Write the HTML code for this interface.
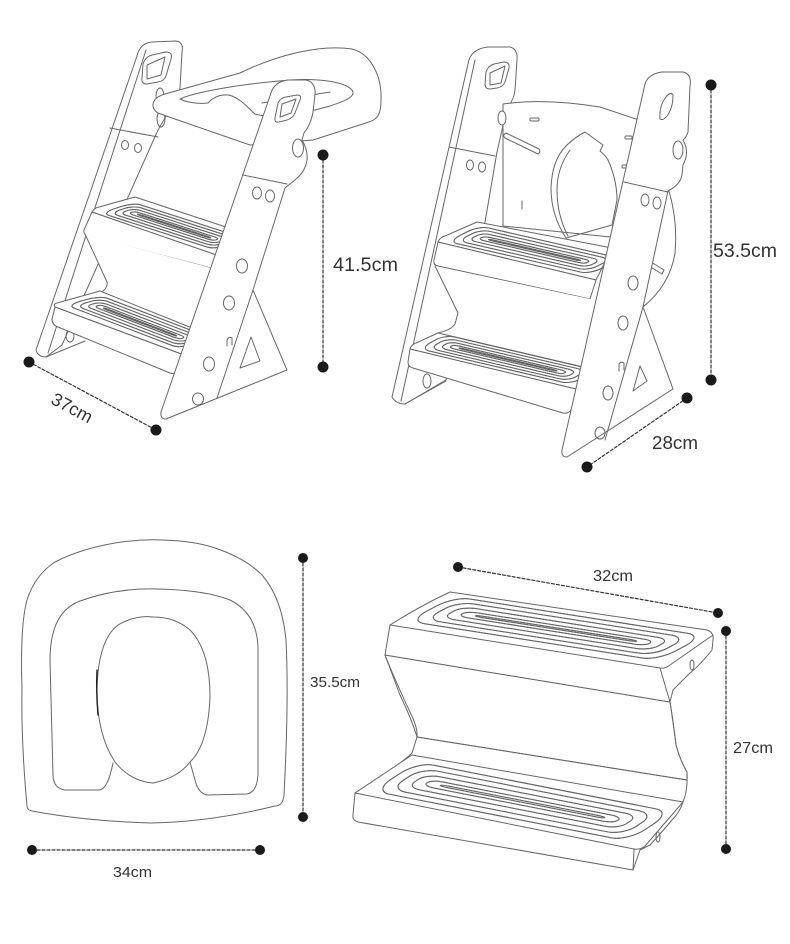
<!DOCTYPE html>
<html><head><meta charset="utf-8">
<style>
html,body{margin:0;padding:0;background:#fff;}
svg{display:block;}
.s *{fill:none;stroke:#666;stroke-width:1;stroke-linejoin:round;stroke-linecap:round;}
.s .w{fill:#fff;}
.s .f{fill:#fff;stroke:none;}
.s .d{fill:#1a1a1a;stroke:none;}
.s .dl{stroke:#333;stroke-width:1.2;stroke-dasharray:3 2;}
.s text{fill:#333;stroke:none;font-family:"Liberation Sans",Arial,sans-serif;}
</style></head>
<body>
<svg class="s" width="790" height="944" viewBox="0 0 790 944" xmlns="http://www.w3.org/2000/svg">
<defs>
<g id="rings">
<rect x="2" y="6" width="96" height="88" rx="6" ry="34" vector-effect="non-scaling-stroke" style="fill:none;stroke:inherit;stroke-width:inherit"/>
<rect x="6" y="18" width="88" height="64" rx="6" ry="25" vector-effect="non-scaling-stroke" style="fill:none;stroke:inherit;stroke-width:inherit"/>
<rect x="10" y="30" width="80" height="40" rx="5" ry="16" vector-effect="non-scaling-stroke" style="fill:none;stroke:inherit;stroke-width:inherit"/>
<rect x="14" y="41" width="72" height="18" rx="4" ry="8" vector-effect="non-scaling-stroke" style="fill:none;stroke:inherit;stroke-width:inherit"/>
<rect x="19" y="48" width="62" height="4" rx="3" ry="2" vector-effect="non-scaling-stroke" style="fill:none;stroke:inherit;stroke-width:inherit"/>
</g>
<g id="gr">
<use href="#rings" style="stroke:#6a6a6a;stroke-width:2.6"/>
<use href="#rings" style="stroke:#fff;stroke-width:0.9"/>
</g>
</defs>

<!-- ================= LEFT LADDER ================= -->
<path class="w" d="M137,56 Q140,43 152,42 L176,41 Q184,42 182,52 L180,88 Q179,97 172,106 L158,130 L62,345 L46,357 Q38,357 36,350 Z"/>
<line x1="146" y1="50" x2="48" y2="353"/>
<line x1="110" y1="128" x2="158" y2="137"/>
<ellipse cx="125" cy="145" rx="3.5" ry="4.5"/>
<ellipse cx="138" cy="148" rx="3.5" ry="4.5"/>
<path d="M143,64 Q145,57 152,55 L166,52 Q173,52 171,59 L166,76 Q164,81 158,82 L147,84 Q141,84 142,78 Z"/>
<path d="M147,65 L165,57 L161,75 L147,79 Z"/>
<ellipse cx="160" cy="96" rx="4" ry="8"/>
<ellipse cx="161" cy="119" rx="4" ry="8"/>
<line x1="46" y1="357" x2="85" y2="341"/>
<ellipse cx="70" cy="336" rx="4" ry="6"/>

<!-- seat -->
<path class="w" d="M158,113 C150,108 151,98 165,94 L240,73 C275,56 318,44 352,49 C372,54 382,78 381,100 C381,114 378,119 369,122 L313,140 L250,145 L172,118 Z"/>
<path d="M180,99 C195,92 240,84 290,80 C320,78 345,82 352,90 C356,96 348,100 330,106 L300,114 C285,117 265,117 255,114 C248,108 242,100 232,96 C224,93 214,96 208,103 C200,104 188,103 180,99 Z"/>
<path d="M262,103 L330,92"/>

<!-- upper step -->
<path class="w" d="M92,212 Q94,208 99,207 L135,197 L238,231 L228,259 Z"/>
<use href="#gr" transform="matrix(1.18,0.38,0.36,-0.12,97,213)"/>
<path class="w" d="M92,212 L84,230 Q83,235 89,236 L226,272 L228,259 Z"/>
<path class="f" d="M85,234 L226,272 L192,328 L100,293 L103,291 Q108,287 107,282 Z"/>
<path d="M85,234 L107,282 Q108,287 103,291 L100,293"/>
<!-- lower step -->
<path class="w" d="M57,303 L100,291 L192,328 L184,355 L55,307 Q53,304 57,303 Z"/>
<use href="#gr" transform="matrix(1.18,0.45,0.38,-0.11,62,305)"/>
<path class="w" d="M55,307 L52,319 Q52,325 58,327 L170,373 Q177,375 181,370 L184,355 Z"/>

<!-- front rail -->
<path class="w" d="M271,93 Q274,82 288,80 L306,80 Q316,82 315,95 L313,112 Q311,124 304,133 L302,140 Q308,150 307,160 Q305,172 296,179 L285,188 L253,290 L287,370 L166,419 Q160,419 161,412 Z"/>
<line x1="253" y1="290" x2="217" y2="398"/>
<line x1="243" y1="175" x2="287" y2="184"/>
<path d="M278,103 Q280,98 286,97 L297,95 Q302,95 300,100 L295,113 Q293,118 287,120 L279,122 Q274,123 275,118 Z"/>
<path d="M282,104 L296,99 L291,113 L280,117 Z"/>
<ellipse cx="298" cy="148" rx="5.5" ry="9"/>
<ellipse cx="257" cy="193" rx="4.5" ry="6"/>
<ellipse cx="270" cy="196" rx="4.5" ry="6"/>
<ellipse cx="242" cy="266" rx="5.5" ry="7"/>
<ellipse cx="229" cy="303" rx="5.5" ry="7"/>
<ellipse cx="209" cy="364" rx="5.5" ry="7"/>
<ellipse cx="198" cy="399" rx="5.5" ry="6"/>
<path d="M227,346 L227,340 Q229,336 232,338 L232,345"/>
<path d="M240,368 L251,337 L260,361 Z"/>

<!-- dims -->
<line class="dl" x1="323" y1="155" x2="323" y2="367"/>
<circle class="d" cx="323" cy="155" r="5.5"/>
<circle class="d" cx="323" cy="367" r="5.5"/>
<text x="333" y="271" font-size="19" textLength="65" lengthAdjust="spacingAndGlyphs">41.5cm</text>
<line class="dl" x1="29" y1="362" x2="156" y2="430"/>
<circle class="d" cx="29" cy="362" r="5.5"/>
<circle class="d" cx="156" cy="430" r="5.5"/>
<text transform="translate(72,408) rotate(28)" x="0" y="6" font-size="18" text-anchor="middle">37cm</text>

<!-- ================= RIGHT LADDER ================= -->
<path class="w" d="M468,64 Q470,49 488,47 L510,47 Q518,49 517,60 L515,90 Q514,100 507,108 L497,152 L484,228 L446,380 L405,404 Q396,404 392,397 Z"/>
<line x1="475" y1="60" x2="401" y2="401"/>
<line x1="449" y1="147" x2="495" y2="156"/>
<ellipse cx="470" cy="165" rx="3.5" ry="5"/>
<ellipse cx="482" cy="167" rx="3.5" ry="5"/>
<path d="M486,72 Q488,66 494,64 L504,62 Q510,62 509,68 L505,82 Q503,87 497,88 L490,89 Q485,89 485,84 Z"/>
<path d="M490,73 L505,66 L501,83 L490,85 Z"/>
<line x1="405" y1="404" x2="446" y2="381"/>
<ellipse cx="427" cy="381" rx="4" ry="7"/>

<!-- seat side curve behind front rail -->
<path class="w" d="M640,140 L668,188 Q678,220 675,253 Q670,285 643,307 L630,300 Z"/>
<path d="M651,262 L664,270 L662,274 L649,266 Z"/>
<!-- seat board -->
<path class="w" d="M503,104 Q545,98 600,107 L645,122 L640,240 L503,226 Z"/>
<ellipse class="w" cx="502" cy="118" rx="4" ry="7"/>
<path d="M566,146 Q575,137 585,132 L603,145 L600,151 Q606,156 608,160 Q617,180 617,200 L612,225 L566,238 Q551,215 551,188 Q552,160 566,146 Z"/>
<path d="M570,150 Q557,168 557,190 Q557,215 568,236"/>
<rect x="530" y="118" width="9" height="3" rx="1"/>
<path d="M506,133 L539,149 Q541,152 538,154 L505,138 Q502,135 506,133 Z"/>
<line x1="522" y1="201" x2="522" y2="209"/>
<rect x="625" y="136" width="7" height="3" rx="1"/>
<rect x="622" y="165" width="6" height="3" rx="1"/>

<!-- upper step -->
<path class="w" d="M438,242 Q440,237 445,236 L477,222 L612,248 L596,280 Z"/>
<use href="#gr" transform="matrix(1.48,0.34,0.35,-0.18,443,242)"/>
<path class="w" d="M438,242 L434,260 Q433,265 438,266 L590,299 L596,280 Z"/>
<path class="f" d="M435,266 L590,299 L582,367 L438,333 L455,324 L458,313 Z"/>
<path d="M435,266 L458,313 L455,324 Q451,330 438,333"/>
<!-- lower step -->
<path class="w" d="M410,349 Q411,345 416,343 L438,333 L583,367 L576,389 Z"/>
<use href="#gr" transform="matrix(1.58,0.37,0.28,-0.16,415,349)"/>
<path class="w" d="M410,349 L408,362 Q408,367 413,368 L563,413 Q570,414 572,408 L576,389 Z"/>

<!-- front rail -->
<path class="w" d="M645,84 Q648,74 662,72 L683,72 Q692,74 690,86 L688,132 Q686,138 683,140 Q690,152 683,165 L682,175 Q680,185 668,191 L643,307 L673,389 L567,457 Q561,457 562,450 Z"/>
<line x1="643" y1="307" x2="605" y2="440"/>
<line x1="624" y1="182" x2="668" y2="192"/>
<ellipse cx="678" cy="150" rx="5" ry="9"/>
<ellipse cx="645" cy="200" rx="4" ry="6"/>
<ellipse cx="657" cy="203" rx="4" ry="6"/>
<ellipse cx="633" cy="283" rx="5" ry="7"/>
<ellipse cx="623" cy="323" rx="5" ry="7"/>
<ellipse cx="608" cy="393" rx="5" ry="7"/>
<ellipse cx="600" cy="433" rx="5" ry="6"/>
<path d="M660,119 Q659,106 666,97 Q671,91 673,95 Q673,108 667,116 Q663,121 660,119 Z"/>
<path d="M619,371 L619,364 Q621,361 624,363 L624,370"/>
<path d="M633,391 L640,366 L647,381 Z"/>

<!-- dims -->
<line class="dl" x1="711" y1="85" x2="711" y2="380"/>
<circle class="d" cx="711" cy="85" r="5.5"/>
<circle class="d" cx="711" cy="380" r="5.5"/>
<text x="713" y="257" font-size="19" textLength="64" lengthAdjust="spacingAndGlyphs">53.5cm</text>
<line class="dl" x1="687" y1="398" x2="587" y2="467"/>
<circle class="d" cx="687" cy="398" r="5.5"/>
<circle class="d" cx="587" cy="467" r="5.5"/>
<text x="652" y="449" font-size="18" textLength="46" lengthAdjust="spacingAndGlyphs">28cm</text>

<!-- ================= SEAT TOP VIEW ================= -->
<path class="w" d="M27,806 Q21,740 22,690 Q20,625 27,600 Q35,575 55,562 Q80,549 115,543 Q140,539 163,540 Q195,541 215,548 Q245,558 262,575 Q282,598 286,640 Q289,700 284,795 Q283,806 275,806 Q210,822 150,823 Q85,821 32,811 Q27,810 27,806 Z"/>
<path d="M113,763 Q108,788 100,790 L65,790 Q53,788 53,775 L50,660 Q50,612 80,601 Q115,588 157,589 Q205,590 230,600 Q258,614 258,650 L258,775 Q257,792 247,794 L207,795 Q198,793 195,780 L190,762"/>
<path d="M115,762 Q97,735 97,690 Q98,640 118,625 Q135,615 153,617 Q175,617 190,630 Q210,650 210,697 Q208,745 190,762 Q178,778 153,783 Q130,781 115,762 Z"/>
<path d="M97,670 Q96,690 98,715" style="stroke:#222;stroke-width:1.4"/>
<line class="dl" x1="303" y1="558" x2="303" y2="817"/>
<circle class="d" cx="303" cy="558" r="5"/>
<circle class="d" cx="303" cy="817" r="5"/>
<text x="310" y="687" font-size="15" textLength="50" lengthAdjust="spacingAndGlyphs">35.5cm</text>
<line class="dl" x1="32" y1="850" x2="260" y2="850"/>
<circle class="d" cx="32" cy="850" r="5"/>
<circle class="d" cx="260" cy="850" r="5"/>
<text x="113" y="877" font-size="15" textLength="39" lengthAdjust="spacingAndGlyphs">34cm</text>

<!-- ================= STEP UNIT ================= -->
<path class="w" d="M385,655 L670,702 Q673,720 676,745 Q680,760 687,772 L687,780 L417,737 Q412,720 400,695 Z"/>
<path d="M385,655 Q395,680 410,712 Q418,728 417,737 L412,753 Q400,765 355,793"/>
<path d="M670,702 Q673,720 676,745 Q680,760 687,772 Q688,790 683,802"/>
<line x1="417" y1="737" x2="687" y2="780"/>
<!-- top tread -->
<path class="w" d="M390,625 Q420,606 450,592 L707,630 Q714,632 713,640 L712,650 Q700,665 690,673 L673,690 L670,702 L385,655 Z"/>
<path d="M390,625 L660,668 Q665,669 670,665 L713,635"/>
<path d="M660,668 L670,702"/>
<use href="#gr" transform="matrix(2.6,0.41,0.52,-0.28,400,622)"/>
<ellipse cx="692" cy="665" rx="2" ry="5"/>
<!-- lower tread -->
<path class="w" d="M355,793 L412,755 L683,802 Q680,812 672,820 Q662,832 650,845 L640,850 L633,870 L358,822 Q352,820 353,815 Z"/>
<path d="M355,793 L634,849 Q640,850 645,846 L683,802"/>
<path d="M634,849 L633,870"/>
<use href="#gr" transform="matrix(2.65,0.52,0.5,-0.33,365,792)"/>
<ellipse cx="658" cy="837" rx="2" ry="5"/>
<!-- dims -->
<line class="dl" x1="458" y1="567" x2="718" y2="613"/>
<circle class="d" cx="458" cy="567" r="5"/>
<circle class="d" cx="718" cy="613" r="5"/>
<text x="593" y="581" font-size="16" textLength="40" lengthAdjust="spacingAndGlyphs">32cm</text>
<line class="dl" x1="726" y1="631" x2="726" y2="849"/>
<circle class="d" cx="726" cy="631" r="5"/>
<circle class="d" cx="726" cy="849" r="5"/>
<text x="733" y="753" font-size="16" textLength="40" lengthAdjust="spacingAndGlyphs">27cm</text>
</svg>
</body></html>
